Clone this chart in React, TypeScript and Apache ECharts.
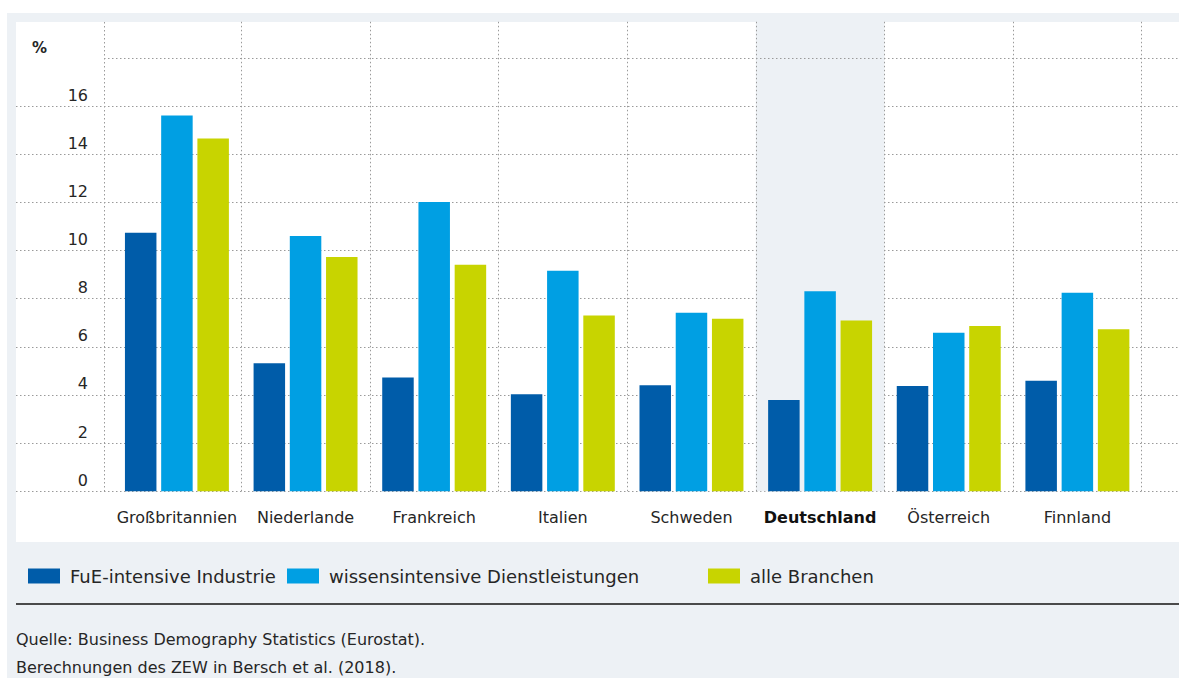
import React, { useEffect, useRef } from 'react';
import * as echarts from 'echarts';

const categories = ['Großbritannien', 'Niederlande', 'Frankreich', 'Italien', 'Schweden', 'Deutschland', 'Österreich', 'Finnland'];
const highlighted = 'Deutschland';
const seriesNames = ['FuE-intensive Industrie', 'wissensintensive Dienstleistungen', 'alle Branchen'];
const fueIndustrie = [10.74, 5.32, 4.72, 4.03, 4.40, 3.79, 4.37, 4.59];
const wissensDienst = [15.61, 10.60, 12.02, 9.16, 7.42, 8.31, 6.58, 8.25];
const alleBranchen = [14.66, 9.73, 9.41, 7.30, 7.17, 7.09, 6.86, 6.73];
const yMin = 0;
const yMax = 18;
const yInterval = 2;
const unitLabel = '%';
const sourceLines = [
  'Quelle: Business Demography Statistics (Eurostat).',
  'Berechnungen des ZEW in Bersch et al. (2018).',
];

const FONT = '"DejaVu Sans", Roboto, sans-serif';
const colors = ['#005ca9', '#009fe3', '#c8d400'];
const BG = '#edf1f5';
const GRID = '#9a9a9a';
const DOT: number[] = [1.5, 2.5];
const TXT = '#262626';

export default function App() {
  const ref = useRef<HTMLDivElement>(null);
  useEffect(() => {
    if (!ref.current) return;
    const chart = echarts.init(ref.current, null, { renderer: 'svg' });
    const zeroY = 491.2;
    const plotTop = 21.8;
    const valueTop = 58;
    const bottom = 678 - zeroY;
    const unitPx = (zeroY - valueTop) / (yMax - yMin);
    const barMax = yMin + (zeroY - plotTop) / unitPx;
    const values = [fueIndustrie, wissensDienst, alleBranchen];

    chart.setOption({
      animation: false,
      backgroundColor: '#ffffff',
      textStyle: { fontFamily: FONT },
      grid: [
        { left: 16, right: 0, top: valueTop, bottom },
        { left: 112.6, right: 37.3, top: plotTop, bottom },
      ],
      xAxis: [
        { type: 'value', gridIndex: 0, min: 0, max: 1, show: false },
        {
          type: 'category',
          gridIndex: 1,
          data: categories,
          boundaryGap: true,
          axisLine: { show: false },
          axisTick: { show: false },
          axisLabel: {
            interval: 0,
            margin: 18,
            fontSize: 16,
            color: TXT,
            fontFamily: FONT,
            formatter: (v: string) => (v === highlighted ? `{b|${v}}` : v),
            rich: { b: { fontWeight: 'bold', fontSize: 16, color: '#111', fontFamily: FONT } },
          },
          splitLine: {
            show: true,
            interval: 0,
            showMinLine: false,
            showMaxLine: true,
            lineStyle: { color: GRID, type: DOT, width: 1 },
          },
          splitArea: {
            show: true,
            interval: 0,
            areaStyle: {
              color: categories.map((c) => (c === highlighted ? BG : 'rgba(255,255,255,0)')),
            },
          },
        },
      ],
      yAxis: [
        {
          type: 'value',
          gridIndex: 0,
          min: yMin,
          max: yMax,
          interval: yInterval,
          axisLine: { show: false },
          axisTick: { show: false },
          axisLabel: {
            inside: true,
            margin: 72,
            align: 'right',
            verticalAlign: 'bottom',
            padding: [0, 0, 3, 0],
            fontSize: 16,
            color: TXT,
            fontFamily: FONT,
            formatter: (v: number) => (v >= yMax ? '' : String(v)),
          },
          splitLine: {
            show: true,
            showMaxLine: false,
            lineStyle: { color: GRID, type: DOT, width: 1 },
          },
        },
        {
          type: 'value',
          gridIndex: 1,
          min: yMin,
          max: barMax,
          show: false,
          splitLine: { show: false },
        },
      ],
      legend: seriesNames.map((name, i) => ({
        data: [name],
        left: [28, 287, 708][i],
        top: 567,
        itemWidth: 32,
        itemHeight: 15,
        icon: 'rect',
        padding: 0,
        textStyle: { fontSize: 18, color: TXT, fontFamily: FONT, padding: [0, 0, 0, 5] },
      })),
      series: seriesNames.map((name, i) => ({
        name,
        type: 'bar',
        xAxisIndex: 1,
        yAxisIndex: 1,
        data: values[i],
        barWidth: 31.5,
        barGap: '15%',
        itemStyle: { color: colors[i] },
      })),
      graphic: [
        { type: 'rect', z: -100, silent: true, shape: { x: 7, y: 13, width: 1172, height: 665 }, style: { fill: BG } },
        { type: 'rect', z: -99, silent: true, shape: { x: 16, y: 22, width: 1163, height: 520 }, style: { fill: '#ffffff' } },
        { type: 'line', z: 1, silent: true, shape: { x1: 104.5, y1: 22, x2: 104.5, y2: zeroY }, style: { stroke: GRID, lineWidth: 1, lineDash: DOT } },
        { type: 'line', z: 1, silent: true, shape: { x1: 104, y1: valueTop + 0.5, x2: 1179, y2: valueTop + 0.5 }, style: { stroke: GRID, lineWidth: 1, lineDash: DOT } },
        { type: 'text', x: 32, y: 40, style: { text: unitLabel, fontSize: 15, fontWeight: 'bold', fill: TXT, fontFamily: FONT } },
        { type: 'line', silent: true, shape: { x1: 16, y1: 604, x2: 1179, y2: 604 }, style: { stroke: '#4a4a4a', lineWidth: 2 } },
        { type: 'text', x: 16, y: 631, style: { text: sourceLines[0], fontSize: 16, fill: TXT, fontFamily: FONT } },
        { type: 'text', x: 16, y: 659, style: { text: sourceLines[1], fontSize: 16, fill: TXT, fontFamily: FONT } },
      ],
    });
    return () => chart.dispose();
  }, []);
  return <div ref={ref} style={{ position: 'fixed', left: 0, top: 0, width: 1179, height: 678 }} />;
}
